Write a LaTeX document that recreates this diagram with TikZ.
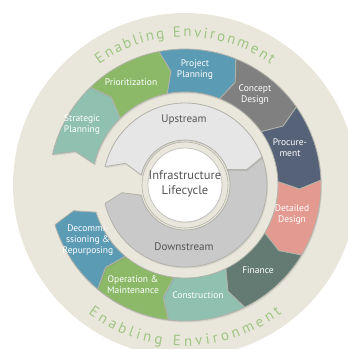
\documentclass[tikz,border=0pt]{standalone}
\usepackage{fontspec}
\setmainfont{PT Sans}
\usetikzlibrary{decorations.text}
\usetikzlibrary{shadows}
\definecolor{mbeige}{RGB}{233,231,220}
\definecolor{menv}{RGB}{160,196,132}
\definecolor{mteal}{RGB}{143,192,176}
\definecolor{mgreen}{RGB}{139,185,103}
\definecolor{mblue}{RGB}{92,155,180}
\definecolor{mgrey}{RGB}{128,128,128}
\definecolor{mslate}{RGB}{86,98,120}
\definecolor{msalmon}{RGB}{227,155,145}
\definecolor{mpine}{RGB}{99,123,115}
\definecolor{mseam}{RGB}{178,178,170}
\definecolor{mup}{RGB}{230,230,230}
\definecolor{mdown}{RGB}{201,201,201}
\definecolor{mtext}{RGB}{85,85,85}
\tikzset{seg/.style = {draw=mseam, line width=0.8pt, line join=round,
                       drop shadow={opacity=0.18, shadow xshift=1pt, shadow yshift=-1.5pt}},
         stage/.style = {text=white, align=center, font=\fontsize{9.5}{11}\selectfont},
         band/.style = {text=mtext, font=\fontsize{11}{13}\selectfont},
         envtext/.style = {decorate, decoration={text along path, text align={fit to path},
                           text format delimiters={|}{|},
                           text={|\fontsize{15}{15}\selectfont\color{menv}|Enabling Environment}}}}

\begin{document}
\begin{tikzpicture}[x=1pt, y=1pt]
  \useasboundingbox (-185,-164) rectangle (163,185);
  \fill[mbeige] (0,0) circle[radius=172];
  % outer ring of stages, clockwise from the left
  \foreach \a/\col in {167/mteal, 134/mgreen, 101/mblue, 68/mgrey, 35/mslate,
                       2/msalmon, -31/mpine, -64/mteal, -97/mgreen, -130/mblue}
    \fill[\col, seg] (\a:136) arc[start angle=\a, end angle={\a-33}, radius=136]
      -- ({\a-37}:114.5) -- ({\a-33}:93) arc[start angle={\a-33}, end angle=\a, radius=93]
      -- ({\a-4}:114.5) -- cycle;
  % upstream / downstream band
  \fill[mdown, seg] (20:82) arc[start angle=20, end angle=-167, radius=82]
    -- (-173:63.5) -- (-167:45) arc[start angle=-167, end angle=20, radius=45]
    -- (14:63.5) -- cycle;
  \fill[mup, seg] (167:82) arc[start angle=167, end angle=20, radius=82]
    -- (14:63.5) -- (20:45) arc[start angle=20, end angle=167, radius=45]
    -- (160:63.5) -- cycle;
  % hub
  \fill[mbeige, draw=mseam, line width=0.6pt] (0,0) circle[radius=43];
  \fill[white, draw=gray!45, line width=0.8pt,
        drop shadow={opacity=0.15, shadow xshift=0.5pt, shadow yshift=-1pt}] (0,0) circle[radius=37];
  \node[text=mtext, align=center, font=\fontsize{12.5}{15}\selectfont] (hub) at (0,1) {Infrastructure\\Lifecycle};
  \node[band] (up) at (-1,65) {Upstream};
  \node[band] (down) at (-1,-62) {Downstream};
  % stage labels
  \node[stage] (strat) at (-103,60) {Strategic\\Planning};
  \node[stage] (prio) at (-54,103) {Prioritization};
  \node[stage] (proj) at (10,115) {Project\\Planning};
  \node[stage] (concept) at (70,90) {Concept\\Design};
  \node[stage] (procure) at (105,37) {Procure-\\ment};
  \node[stage] (detail) at (107,-30) {Detailed\\Design};
  \node[stage] (finance) at (73,-85) {Finance};
  \node[stage] (constr) at (13,-110) {Construction};
  \node[stage] (operate) at (-52,-100) {Operation \&\\Maintenance};
  \node[stage] (decom) at (-97,-55) {Decommi-\\ssioning \&\\Repurposing};
  % enabling environment, top and bottom
  \path[envtext] (125.5:148) arc[start angle=125.5, end angle=54.5, radius=148];
  \path[envtext] (233:161) arc[start angle=233, end angle=307, radius=161];
\end{tikzpicture}
\end{document}
